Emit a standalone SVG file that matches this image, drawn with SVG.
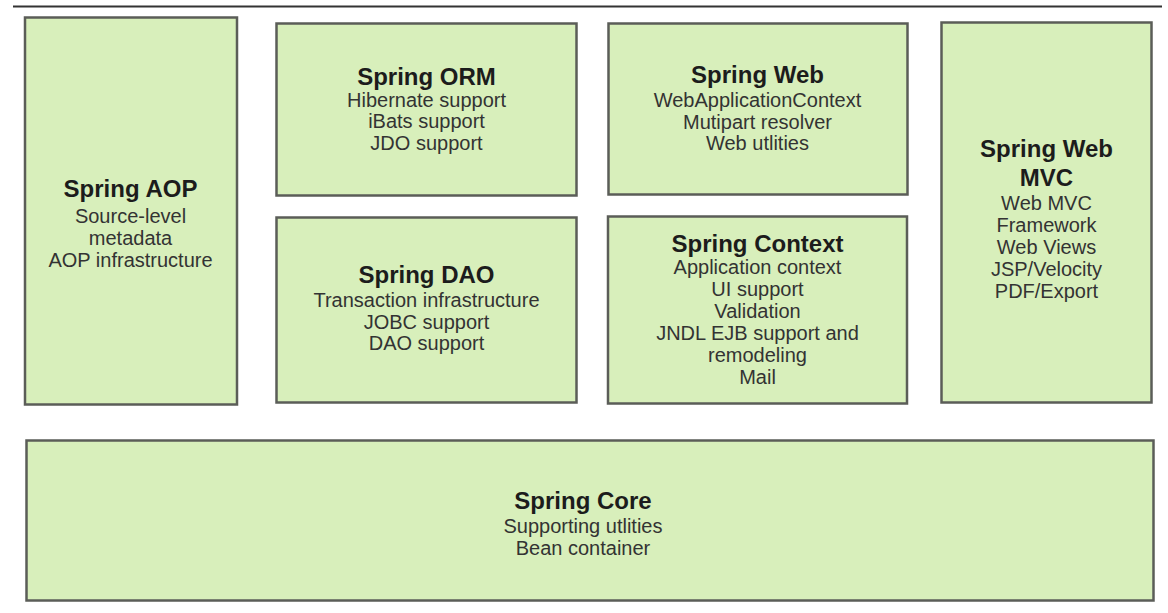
<svg xmlns="http://www.w3.org/2000/svg" width="1168" height="613" viewBox="0 0 1168 613">
<style>
.box{fill:#d8efbb;stroke:#5b5d58;stroke-width:2.5}
.t{font-family:"Liberation Sans",Arial,sans-serif;font-size:24px;font-weight:bold;fill:#1c1c1c;text-anchor:middle}
.b{font-family:"Liberation Sans",Arial,sans-serif;font-size:20px;fill:#333;text-anchor:middle}
</style>
<rect width="1168" height="613" fill="#fff"/>
<line x1="13" y1="6.5" x2="1162" y2="6.5" stroke="#333" stroke-width="2"/>
<g id="aop">
<rect class="box" x="25" y="17.5" width="212" height="387"/>
<text class="t" x="130.5" y="197">Spring AOP</text>
<text class="b" x="130.5" y="223">Source-level</text>
<text class="b" x="130.5" y="245">metadata</text>
<text class="b" x="130.5" y="267">AOP infrastructure</text>
</g>
<g id="orm">
<rect class="box" x="276.5" y="23.5" width="300" height="172"/>
<text class="t" x="426.5" y="85">Spring ORM</text>
<text class="b" x="426.5" y="107">Hibernate support</text>
<text class="b" x="426.5" y="128">iBats support</text>
<text class="b" x="426.5" y="150">JDO support</text>
</g>
<g id="dao">
<rect class="box" x="276.5" y="217.5" width="300" height="185"/>
<text class="t" x="426.5" y="283">Spring DAO</text>
<text class="b" x="426.5" y="307">Transaction infrastructure</text>
<text class="b" x="426.5" y="329">JOBC support</text>
<text class="b" x="426.5" y="350">DAO support</text>
</g>
<g id="web">
<rect class="box" x="608.5" y="23.5" width="299" height="171"/>
<text class="t" x="757.5" y="83">Spring Web</text>
<text class="b" x="757.5" y="107">WebApplicationContext</text>
<text class="b" x="757.5" y="129">Mutipart resolver</text>
<text class="b" x="757.5" y="150">Web utlities</text>
</g>
<g id="context">
<rect class="box" x="608" y="216.5" width="299" height="187"/>
<text class="t" x="757.5" y="252">Spring Context</text>
<text class="b" x="757.5" y="274">Application context</text>
<text class="b" x="757.5" y="296">UI support</text>
<text class="b" x="757.5" y="318">Validation</text>
<text class="b" x="757.5" y="340">JNDL EJB support and</text>
<text class="b" x="757.5" y="362">remodeling</text>
<text class="b" x="757.5" y="384">Mail</text>
</g>
<g id="mvc">
<rect class="box" x="941.5" y="22.5" width="210" height="380"/>
<text class="t" x="1046.5" y="157">Spring Web</text>
<text class="t" x="1046.5" y="186">MVC</text>
<text class="b" x="1046.5" y="210">Web MVC</text>
<text class="b" x="1046.5" y="232">Framework</text>
<text class="b" x="1046.5" y="254">Web Views</text>
<text class="b" x="1046.5" y="276">JSP/Velocity</text>
<text class="b" x="1046.5" y="298">PDF/Export</text>
</g>
<g id="core">
<rect class="box" x="26.5" y="440.5" width="1127" height="160"/>
<text class="t" x="583" y="509">Spring Core</text>
<text class="b" x="583" y="533">Supporting utlities</text>
<text class="b" x="583" y="555">Bean container</text>
</g>
<g id="connectors"/>
</svg>
